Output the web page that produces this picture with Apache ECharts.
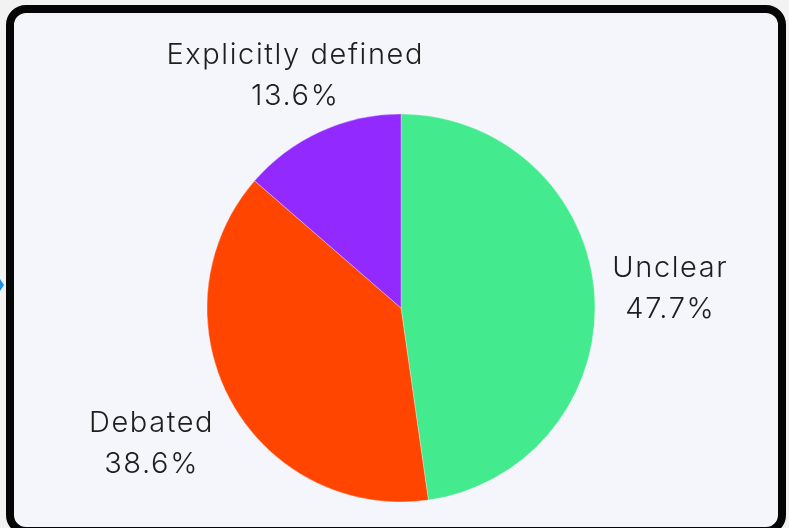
<!DOCTYPE html>
<html>
<head>
<meta charset="utf-8">
<script src="https://cdn.jsdelivr.net/npm/echarts@6/dist/echarts.min.js"></script>
<style>
html,body{margin:0;padding:0;background:#f1f2f1;}
#chart{width:789px;height:528px;}
</style>
</head>
<body>
<div id="chart"></div>
<script>
const categories = ['Unclear', 'Debated', 'Explicitly defined'];
const values = [47.7, 38.6, 13.6];
const colors = ['#43eb8e', '#ff4500', '#9229ff'];
const labelLengths = [76, 90, 61];

// slightly wider tracking for the label text (canvas letterSpacing)
(function () {
  const P = CanvasRenderingContext2D.prototype;
  if (!('letterSpacing' in P)) return;
  const wrap = name => {
    const orig = P[name];
    P[name] = function () {
      this.letterSpacing = /Inter/.test(this.font) ? '1.6px' : '0px';
      return orig.apply(this, arguments);
    };
  };
  wrap('fillText'); wrap('measureText');
})();

const chart = echarts.init(document.getElementById('chart'), null, {renderer: 'canvas'});
const data = categories.map((c, i) => ({
  name: c,
  value: values[i],
  itemStyle: {color: colors[i]},
  labelLine: {show: false, length: labelLengths[i], length2: 0}
}));
chart.setOption({
  animation: false,
  backgroundColor: 'transparent',
  graphic: [
    {type: 'rect', z: -10, shape: {x: 10, y: 9, width: 772, height: 522, r: 16},
     style: {fill: '#f5f5fc', stroke: '#050505', lineWidth: 8}},
    {type: 'polygon', z: -10, shape: {points: [[0, 279], [4, 285], [0, 291]]},
     style: {fill: '#1b8fe6'}}
  ],
  series: [{
    type: 'pie',
    center: [401, 308],
    radius: [0, 194],
    startAngle: 90,
    clockwise: true,
    avoidLabelOverlap: false,
    itemStyle: {borderColor: 'rgba(255,255,255,0.5)', borderWidth: 0.6},
    label: {
      show: true,
      position: 'outside',
      distanceToLabelLine: 0,
      formatter: p => p.name + '\n' + p.value.toFixed(1) + '%',
      fontFamily: 'Inter',
      fontWeight: 300,
      fontSize: 29,
      lineHeight: 41,
      color: '#1e1e1e',
      align: 'center'
    },
    labelLine: {show: false},
    labelLayout: function () { return {align: 'center'}; },
    data: data
  }]
});
</script>
</body>
</html>
